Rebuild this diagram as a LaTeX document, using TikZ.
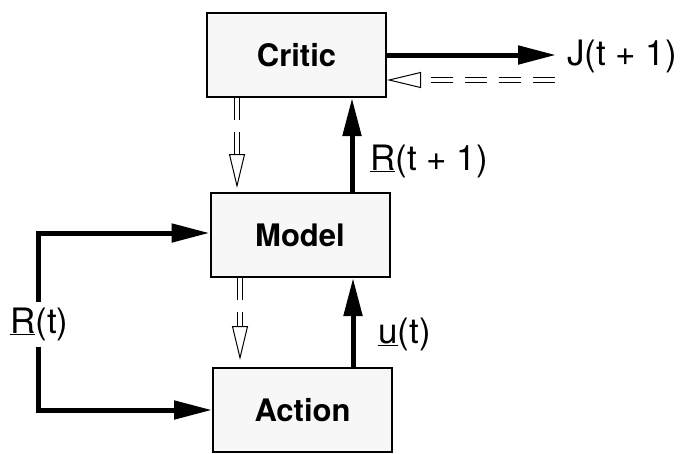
\documentclass[tikz,border=0pt]{standalone}
\usepackage{fontspec}
\setmainfont{TeX Gyre Heros}
\usetikzlibrary{arrows.meta,calc}
\begin{document}
\begin{tikzpicture}[x=1pt,y=-1pt,
  blockbox/.style={draw=black, line width=2pt, fill=gray!6, minimum width=179pt, minimum height=84pt, inner sep=0pt, font=\fontsize{31}{36}\selectfont\bfseries},
  lbl/.style={inner sep=0pt, font=\fontsize{35}{40}\selectfont},
  sig/.style={line width=5pt, -{Triangle[length=38pt,width=18pt]}},
  hollow/.style={line width=1pt, double=white, double distance=3.4pt, dash pattern=on 22pt off 12pt,
    -{Triangle[open, length=34pt, width=16pt, line width=1pt, fill=white]}}
]
\useasboundingbox (0,0) rectangle (683,453);
\node[blockbox] (Critic) at (296.5,55) {Critic};
\node[blockbox] (Model)  at (300,235) {Model};
\node[blockbox] (Action) at (302.5,410) {Action};

\node[lbl, anchor=base west] (J) at (567,65) {J(t + 1)};
\node[lbl, anchor=base west] (Rt1) at (370,170) {\underline{R}(t + 1)};
\node[lbl, anchor=base west] (ut) at (378,343) {\underline{u}(t)};
\node[lbl, anchor=base west] (Rt) at (10,333) {\underline{R}(t)};
\coordinate (loopx) at (38,322);
\coordinate (jback) at (555,80);

% output
\draw[sig] (Critic.east) -- ([xshift=-11pt]J.west |- Critic.east);
% back dashed
\draw[hollow] (jback) -- (jback -| Critic.east);
% R(t+1)
\draw[sig] ([xshift=52pt]Model.north) -- ([xshift=52pt]Model.north |- Critic.south);
% u(t)
\draw[sig] ([xshift=50.5pt]Action.north) -- ([xshift=50.5pt]Action.north |- Model.south);
% hollow verticals
\draw[hollow, shorten >=4pt] ([xshift=-59.5pt]Critic.south) -- ([xshift=-59.5pt]Critic.south |- Model.north);
\draw[hollow, shorten >=7pt] ([xshift=-60pt]Model.south) -- ([xshift=-60pt]Model.south |- Action.north);
% R(t) loop
\draw[sig] ([yshift=5pt]loopx |- Rt.north) |- ([yshift=2pt]Model.west);
\draw[sig] ([yshift=-6pt]loopx |- Rt.south) |- (Action.west);
\end{tikzpicture}
\end{document}
